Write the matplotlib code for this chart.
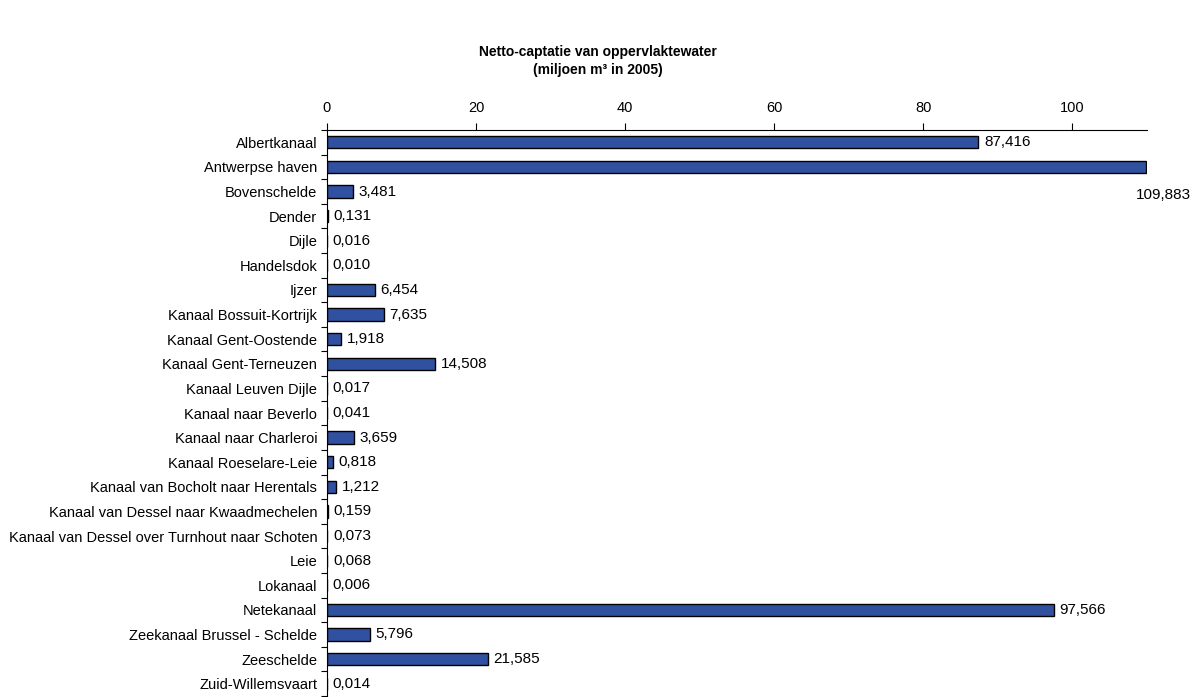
import matplotlib
matplotlib.use("Agg")
import matplotlib.pyplot as plt
from matplotlib.ticker import FixedLocator, NullFormatter
import numpy as np

plt.rcParams['font.family'] = ['Liberation Sans', 'DejaVu Sans']

categories = [
    "Albertkanaal", "Antwerpse haven", "Bovenschelde", "Dender", "Dijle",
    "Handelsdok", "Ijzer", "Kanaal Bossuit-Kortrijk", "Kanaal Gent-Oostende",
    "Kanaal Gent-Terneuzen", "Kanaal Leuven Dijle", "Kanaal naar Beverlo",
    "Kanaal naar Charleroi", "Kanaal Roeselare-Leie",
    "Kanaal van Bocholt naar Herentals",
    "Kanaal van Dessel naar Kwaadmechelen",
    "Kanaal van Dessel over Turnhout naar Schoten", "Leie", "Lokanaal",
    "Netekanaal", "Zeekanaal Brussel - Schelde", "Zeeschelde",
    "Zuid-Willemsvaart",
]
values = [
    87.416, 109.883, 3.481, 0.131, 0.016, 0.010, 6.454, 7.635, 1.918,
    14.508, 0.017, 0.041, 3.659, 0.818, 1.212, 0.159, 0.073, 0.068,
    0.006, 97.566, 5.796, 21.585, 0.014,
]
x_ticks = [0, 20, 40, 60, 80, 100]

fig = plt.figure(figsize=(11.95, 6.97), dpi=100)
ax = fig.add_axes([0.2736, 0.0014, 0.686, 0.8121])

y = np.arange(len(categories))
ax.barh(y, values, height=0.5, color="#3050A0", edgecolor="black", linewidth=1.0)

ax.set_xlim(0, 110)
ax.set_ylim(len(categories) - 0.5, -0.5)

# value axis on top
ax.xaxis.set_ticks_position("top")
ax.xaxis.set_label_position("top")
ax.set_xticks(x_ticks)
ax.set_xticklabels([str(t) for t in x_ticks], fontsize=10.5)
ax.tick_params(axis="x", direction="out", length=5, width=0.8, pad=6)

# category axis: labels at centres, tick marks at boundaries
ax.set_yticks(y)
ax.set_yticklabels(categories, fontsize=10.5)
ax.tick_params(axis="y", which="major", length=0, pad=7)
ax.yaxis.set_minor_locator(FixedLocator(np.arange(-0.5, len(categories), 1.0)))
ax.yaxis.set_minor_formatter(NullFormatter())
ax.tick_params(axis="y", which="minor", direction="out", length=4, width=0.8)

for side in ["right", "bottom"]:
    ax.spines[side].set_visible(False)
ax.spines["top"].set_linewidth(0.8)
ax.spines["left"].set_linewidth(0.8)

def fmt(v):
    return f"{v:.3f}".replace(".", ",")

for i, v in enumerate(values):
    if v > 105:
        ax.annotate(fmt(v), xy=(v, i), xytext=(13, -20), textcoords="offset points",
                    ha="center", va="center", fontsize=11, annotation_clip=False)
    else:
        ax.annotate(fmt(v), xy=(v, i), xytext=(4, 0), textcoords="offset points",
                    ha="left", va="center", fontsize=11)

fig.text(0.5, 1 - 52 / 697, "Netto-captatie van oppervlaktewater",
         ha="center", va="center", fontsize=10, fontweight="bold")
fig.text(0.5, 1 - 70 / 697, "(miljoen m³ in 2005)",
         ha="center", va="center", fontsize=10, fontweight="bold")

fig.savefig("out.png", dpi=100)
